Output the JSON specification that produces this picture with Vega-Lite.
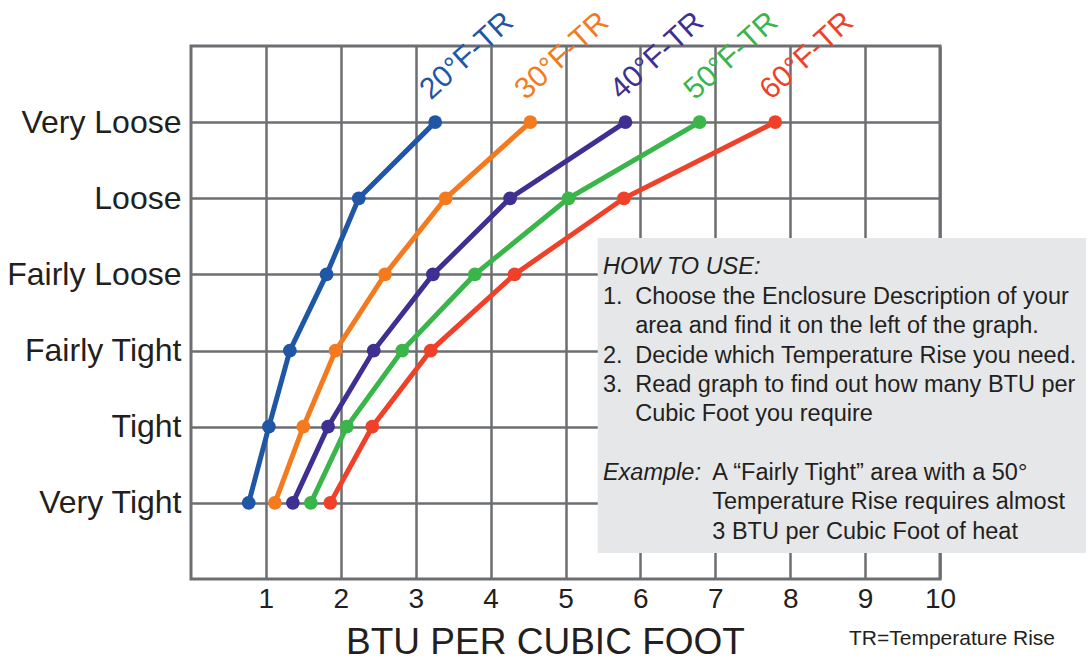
{
  "$schema": "https://vega.github.io/schema/vega-lite/v6.json",
  "autosize": "none",
  "width": 749,
  "height": 533,
  "padding": {"left": 191, "top": 46, "right": 148, "bottom": 81},
  "background": "white",
  "config": {
    "font": "Liberation Sans",
    "view": {"stroke": "#6d6e71", "strokeWidth": 3},
    "axis": {"gridColor": "#6d6e71", "gridWidth": 2.5, "gridOpacity": 1, "domain": false, "ticks": false, "labelColor": "#231f20", "titleColor": "#231f20", "labelFont": "Liberation Sans", "titleFont": "Liberation Sans"}
  },
  "data": {
    "values": [
      {"tr": "20", "label": "20°F-TR", "level": 6, "btu": 3.26},
      {"tr": "20", "label": "20°F-TR", "level": 5, "btu": 2.24},
      {"tr": "20", "label": "20°F-TR", "level": 4, "btu": 1.81},
      {"tr": "20", "label": "20°F-TR", "level": 3, "btu": 1.32},
      {"tr": "20", "label": "20°F-TR", "level": 2, "btu": 1.04},
      {"tr": "20", "label": "20°F-TR", "level": 1, "btu": 0.77},
      {"tr": "30", "label": "30°F-TR", "level": 6, "btu": 4.53},
      {"tr": "30", "label": "30°F-TR", "level": 5, "btu": 3.40},
      {"tr": "30", "label": "30°F-TR", "level": 4, "btu": 2.59},
      {"tr": "30", "label": "30°F-TR", "level": 3, "btu": 1.93},
      {"tr": "30", "label": "30°F-TR", "level": 2, "btu": 1.50},
      {"tr": "30", "label": "30°F-TR", "level": 1, "btu": 1.12},
      {"tr": "40", "label": "40°F-TR", "level": 6, "btu": 5.80},
      {"tr": "40", "label": "40°F-TR", "level": 5, "btu": 4.26},
      {"tr": "40", "label": "40°F-TR", "level": 4, "btu": 3.23},
      {"tr": "40", "label": "40°F-TR", "level": 3, "btu": 2.44},
      {"tr": "40", "label": "40°F-TR", "level": 2, "btu": 1.83},
      {"tr": "40", "label": "40°F-TR", "level": 1, "btu": 1.36},
      {"tr": "50", "label": "50°F-TR", "level": 6, "btu": 6.79},
      {"tr": "50", "label": "50°F-TR", "level": 5, "btu": 5.04},
      {"tr": "50", "label": "50°F-TR", "level": 4, "btu": 3.79},
      {"tr": "50", "label": "50°F-TR", "level": 3, "btu": 2.82},
      {"tr": "50", "label": "50°F-TR", "level": 2, "btu": 2.08},
      {"tr": "50", "label": "50°F-TR", "level": 1, "btu": 1.60},
      {"tr": "60", "label": "60°F-TR", "level": 6, "btu": 7.80},
      {"tr": "60", "label": "60°F-TR", "level": 5, "btu": 5.78},
      {"tr": "60", "label": "60°F-TR", "level": 4, "btu": 4.32},
      {"tr": "60", "label": "60°F-TR", "level": 3, "btu": 3.20},
      {"tr": "60", "label": "60°F-TR", "level": 2, "btu": 2.42},
      {"tr": "60", "label": "60°F-TR", "level": 1, "btu": 1.86}
    ]
  },
  "encoding": {
    "x": {
      "field": "btu", "type": "quantitative",
      "scale": {"domain": [0, 10], "nice": false, "zero": false},
      "axis": {"values": [1, 2, 3, 4, 5, 6, 7, 8, 9, 10], "labelFontSize": 28, "labelPadding": 6, "labelFlush": false, "labelOverlap": false, "title": "BTU PER CUBIC FOOT", "titleFontSize": 37, "titleFontWeight": "normal", "titlePadding": 11, "titleX": 354}
    },
    "y": {
      "field": "level", "type": "quantitative",
      "scale": {"domain": [0, 7], "nice": false, "zero": false},
      "axis": {"values": [1, 2, 3, 4, 5, 6], "labelFontSize": 32, "labelPadding": 10, "title": null, "labelBaseline": "middle", "labelFlush": false, "labelOverlap": false,
        "labelExpr": "['', 'Very Tight', 'Tight', 'Fairly Tight', 'Fairly Loose', 'Loose', 'Very Loose'][datum.value]"}
    },
    "color": {
      "field": "tr", "type": "nominal", "legend": null,
      "scale": {"domain": ["20", "30", "40", "50", "60"], "range": ["#1f56a5", "#f47a20", "#3e2f92", "#39b54a", "#ef4129"]}
    }
  },
  "layer": [
    {
      "mark": {"type": "line", "strokeWidth": 5},
      "encoding": {"order": {"field": "level", "type": "quantitative"}}
    },
    {
      "mark": {"type": "point", "filled": true, "opacity": 1, "size": 190}
    },
    {
      "transform": [{"filter": "datum.level == 6"}],
      "mark": {"type": "text", "angle": 318, "align": "left", "baseline": "alphabetic", "fontSize": 30, "dx": 11, "dy": -19},
      "encoding": {"text": {"field": "label"}}
    },
    {
      "transform": [{"filter": "datum.level == 6 && datum.tr == '20'"}],
      "mark": {"type": "rect", "color": "#e6e7e8"},
      "encoding": {
        "x": {"datum": 5.43, "scale": {"domain": [0, 10], "nice": false, "zero": false}},
        "x2": {"datum": 11.95},
        "y": {"datum": 4.48, "scale": {"domain": [0, 7], "nice": false, "zero": false}},
        "y2": {"datum": 0.34},
        "color": {"value": "#e6e7e8"}
      }
    },
    {
      "transform": [{"filter": "datum.level == 6 && datum.tr == '20'"}],
      "mark": {"type": "text", "align": "left", "baseline": "alphabetic", "fontSize": 23.5, "fontStyle": "italic", "text": "HOW TO USE:"},
      "encoding": {
        "x": {"datum": 5.50, "scale": {"domain": [0, 10], "nice": false, "zero": false}},
        "y": {"datum": 4.006, "scale": {"domain": [0, 7], "nice": false, "zero": false}},
        "color": {"value": "#231f20"}
      }
    },
    {
      "transform": [{"filter": "datum.level == 6 && datum.tr == '20'"}],
      "mark": {"type": "text", "align": "left", "baseline": "alphabetic", "fontSize": 23.5, "text": "1."},
      "encoding": {
        "x": {"datum": 5.50, "scale": {"domain": [0, 10], "nice": false, "zero": false}},
        "y": {"datum": 3.612, "scale": {"domain": [0, 7], "nice": false, "zero": false}},
        "color": {"value": "#231f20"}
      }
    },
    {
      "transform": [{"filter": "datum.level == 6 && datum.tr == '20'"}],
      "mark": {"type": "text", "align": "left", "baseline": "alphabetic", "fontSize": 23.5, "lineHeight": 29.3, "text": ["2.", "3."]},
      "encoding": {
        "x": {"datum": 5.50, "scale": {"domain": [0, 10], "nice": false, "zero": false}},
        "y": {"datum": 2.842, "scale": {"domain": [0, 7], "nice": false, "zero": false}},
        "color": {"value": "#231f20"}
      }
    },
    {
      "transform": [{"filter": "datum.level == 6 && datum.tr == '20'"}],
      "mark": {"type": "text", "align": "left", "baseline": "alphabetic", "fontSize": 23.5, "lineHeight": 29.3,
        "text": ["Choose the Enclosure Description of your", "area and find it on the left of the graph.", "Decide which Temperature Rise you need.", "Read graph to find out how many BTU per", "Cubic Foot you require"]},
      "encoding": {
        "x": {"datum": 5.93, "scale": {"domain": [0, 10], "nice": false, "zero": false}},
        "y": {"datum": 3.612, "scale": {"domain": [0, 7], "nice": false, "zero": false}},
        "color": {"value": "#231f20"}
      }
    },
    {
      "transform": [{"filter": "datum.level == 6 && datum.tr == '20'"}],
      "mark": {"type": "text", "align": "left", "baseline": "alphabetic", "fontSize": 23.5, "fontStyle": "italic", "text": "Example:"},
      "encoding": {
        "x": {"datum": 5.50, "scale": {"domain": [0, 10], "nice": false, "zero": false}},
        "y": {"datum": 1.30, "scale": {"domain": [0, 7], "nice": false, "zero": false}},
        "color": {"value": "#231f20"}
      }
    },
    {
      "transform": [{"filter": "datum.level == 6 && datum.tr == '20'"}],
      "mark": {"type": "text", "align": "left", "baseline": "alphabetic", "fontSize": 23.5, "lineHeight": 29.3,
        "text": ["A “Fairly Tight” area with a 50°", "Temperature Rise requires almost", "3 BTU per Cubic Foot of heat"]},
      "encoding": {
        "x": {"datum": 6.96, "scale": {"domain": [0, 10], "nice": false, "zero": false}},
        "y": {"datum": 1.30, "scale": {"domain": [0, 7], "nice": false, "zero": false}},
        "color": {"value": "#231f20"}
      }
    },
    {
      "transform": [{"filter": "datum.level == 6 && datum.tr == '20'"}],
      "mark": {"type": "text", "align": "center", "baseline": "alphabetic", "fontSize": 21, "text": "TR=Temperature Rise"},
      "encoding": {
        "x": {"datum": 10.16, "scale": {"domain": [0, 10], "nice": false, "zero": false}},
        "y": {"datum": -0.87, "scale": {"domain": [0, 7], "nice": false, "zero": false}},
        "color": {"value": "#231f20"}
      }
    }
  ]
}
